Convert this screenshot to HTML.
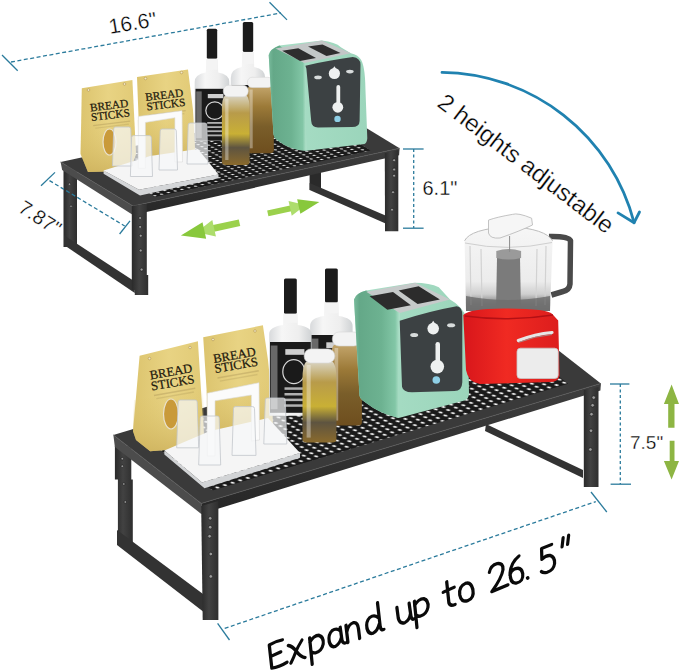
<!DOCTYPE html>
<html><head><meta charset="utf-8"><title>Shelf</title>
<style>
html,body{margin:0;padding:0;background:#fff;}
body{width:679px;height:672px;overflow:hidden;}
svg{display:block;font-family:"Liberation Sans",sans-serif;}
.serif{font-family:"Liberation Serif",serif;}
.thin text{stroke:#fff;stroke-width:0.3px;paint-order:normal;}

</style></head>
<body>
<svg width="679" height="672" viewBox="0 0 679 672">
<defs>
  <pattern id="dots1" patternUnits="userSpaceOnUse" width="1" height="1" patternTransform="matrix(6.8 -1.6 3.7 2.05 0 0)">
    <rect width="1" height="1" fill="#1a1a1a"/>
    <ellipse cx="0.5" cy="0.5" rx="0.18" ry="0.27" fill="#f0f0f0"/>
  </pattern>
  <pattern id="dots2" patternUnits="userSpaceOnUse" width="1" height="1" patternTransform="matrix(7.6 -2.4 4.8 3.1 0 0)">
    <rect width="1" height="1" fill="#1a1a1a"/>
    <ellipse cx="0.5" cy="0.5" rx="0.2" ry="0.28" fill="#f2f2f2"/>
  </pattern>
  <linearGradient id="mintL" x1="0" y1="0" x2="1" y2="0">
    <stop offset="0" stop-color="#79bb9c"/><stop offset="0.12" stop-color="#64a888"/><stop offset="0.6" stop-color="#6db291"/><stop offset="0.9" stop-color="#82c6a6"/><stop offset="1" stop-color="#b2e2cc"/>
  </linearGradient>
  <linearGradient id="mintF" x1="0" y1="0" x2="1" y2="0">
    <stop offset="0" stop-color="#aadfc7"/><stop offset="1" stop-color="#9bd5bb"/>
  </linearGradient>
  <linearGradient id="ambA" x1="0" y1="0" x2="0" y2="1">
    <stop offset="0" stop-color="#d9d3c0"/><stop offset="0.25" stop-color="#b89b4a"/><stop offset="0.55" stop-color="#c9b035"/><stop offset="0.75" stop-color="#5e5440"/><stop offset="1" stop-color="#8a6a2c"/>
  </linearGradient>
  <linearGradient id="ambB" x1="0" y1="0" x2="0" y2="1">
    <stop offset="0" stop-color="#c2a46a"/><stop offset="0.3" stop-color="#9c7a38"/><stop offset="0.6" stop-color="#7a5e2a"/><stop offset="1" stop-color="#6e4e1e"/>
  </linearGradient>
  <linearGradient id="gold" x1="0" y1="0" x2="1" y2="0">
    <stop offset="0" stop-color="#dcc46e"/><stop offset="0.5" stop-color="#e8d383"/><stop offset="1" stop-color="#e1ca76"/>
  </linearGradient>
  <linearGradient id="goldD" x1="0" y1="0" x2="0" y2="1">
    <stop offset="0" stop-color="#e0c870" stop-opacity="0"/><stop offset="1" stop-color="#cdb15c" stop-opacity="0.8"/>
  </linearGradient>
  <linearGradient id="red" x1="0" y1="0" x2="1" y2="0">
    <stop offset="0" stop-color="#d8161b"/><stop offset="0.45" stop-color="#f02a22"/><stop offset="1" stop-color="#dc1d1d"/>
  </linearGradient>
  <linearGradient id="bowl" x1="0" y1="0" x2="0" y2="1">
    <stop offset="0" stop-color="#f6f6f6"/><stop offset="0.65" stop-color="#ececec"/><stop offset="0.8" stop-color="#cfcfcf"/><stop offset="0.9" stop-color="#8a8a8a"/><stop offset="1" stop-color="#6a6a6a"/>
  </linearGradient>
  <linearGradient id="glass" x1="0" y1="0" x2="1" y2="0">
    <stop offset="0" stop-color="#d8dadc"/><stop offset="0.3" stop-color="#f6f6f6"/><stop offset="0.7" stop-color="#eeeeee"/><stop offset="1" stop-color="#cfd2d4"/>
  </linearGradient>
  <linearGradient id="leg" x1="0" y1="0" x2="1" y2="0">
    <stop offset="0" stop-color="#2a2a2a"/><stop offset="0.45" stop-color="#424242"/><stop offset="1" stop-color="#2e2e2e"/>
  </linearGradient>
  <linearGradient id="frontF" x1="0" y1="0" x2="0" y2="1">
    <stop offset="0" stop-color="#3e3e3e"/><stop offset="1" stop-color="#262626"/>
  </linearGradient>
</defs>

<g transform="translate(239.5,222.7) rotate(167.6)">
  <rect x="0" y="-3.4" width="36" height="6.8" fill="#9bd14c"/>
  <polygon points="26,-8.5 44,0 26,8.5" fill="#addd6c"/>
  <polygon points="36,-8.5 60,0 36,8.5" fill="#88c83c"/>
</g>
<g transform="translate(267.8,213.3) rotate(-12.3) scale(0.88)">
  <rect x="0" y="-3.4" width="36" height="6.8" fill="#9bd14c"/>
  <polygon points="26,-8.5 44,0 26,8.5" fill="#addd6c"/>
  <polygon points="36,-8.5 60,0 36,8.5" fill="#88c83c"/>
</g>
<g fill="#8db543">
  <polygon points="671.6,384.5 679,403.9 674.5,403.9 674.5,427.7 668.2,427.7 668.2,403.9 663.9,403.9"/>
  <polygon points="669.7,440.7 674.5,440.7 674.5,461 679,461 671.6,479.4 663.9,461 669.7,461"/>
</g>
<g id="s1"><polygon points="309.6,170 321,170 321,190 309.6,190" fill="#2a2a2a"/>
<polygon points="309.6,183 389,217 389,225 309.6,190" fill="#333"/>
<polygon points="63.5,166 77,166 77,247 63.5,247" fill="url(#leg)"/>
<polygon points="64,235.3 134.8,281.6 134.8,293 64,245" fill="#333"/>
<circle cx="69.5" cy="184.2" r="1.2" fill="#9a9a9a" stroke="#1a1a1a" stroke-width="0.6"/>
<circle cx="71.0" cy="206.3" r="1.2" fill="#9a9a9a" stroke="#1a1a1a" stroke-width="0.6"/>
<polygon points="60.6,162.0 133.0,206.0 399.6,148.3 327.2,104.3" fill="#3a3a3a"/>
<polygon points="154.6,197.1 370.5,150.4 310.4,113.9 94.5,160.6" fill="url(#dots1)"/>
<polygon points="60.6,162.0 133.0,206.0 133.0,215.0 62.1,170.0" fill="#4c4c4c"/>
<polygon points="133.0,206.0 399.6,148.3 399.1,155.3 133.0,215.0" fill="url(#frontF)"/>
<polyline points="60.6,162.0 133.0,206.0 399.6,148.3" fill="none" stroke="#585858" stroke-width="0.8"/>
<polygon points="131.8,206 146.8,204 146.8,275 148.2,275 148.2,295 134.8,295 134.8,290 131.8,290" fill="url(#leg)"/>
<polygon points="384.8,153 398.3,150 398.3,231.3 385,231.3" fill="url(#leg)"/>
<circle cx="140.1" cy="218.0" r="1.5" fill="#9a9a9a" stroke="#1a1a1a" stroke-width="0.6"/>
<circle cx="140.1" cy="226.9" r="1.5" fill="#9a9a9a" stroke="#1a1a1a" stroke-width="0.6"/>
<circle cx="140.7" cy="235.7" r="1.5" fill="#9a9a9a" stroke="#1a1a1a" stroke-width="0.6"/>
<circle cx="140.7" cy="250.5" r="1.5" fill="#9a9a9a" stroke="#1a1a1a" stroke-width="0.6"/>
<circle cx="141.6" cy="269.6" r="1.5" fill="#9a9a9a" stroke="#1a1a1a" stroke-width="0.6"/>
<circle cx="394.1" cy="160.2" r="1.5" fill="#9a9a9a" stroke="#1a1a1a" stroke-width="0.6"/>
<circle cx="394.1" cy="169.5" r="1.5" fill="#9a9a9a" stroke="#1a1a1a" stroke-width="0.6"/>
<circle cx="394.1" cy="175.7" r="1.5" fill="#9a9a9a" stroke="#1a1a1a" stroke-width="0.6"/>
<circle cx="393.0" cy="192.2" r="1.5" fill="#9a9a9a" stroke="#1a1a1a" stroke-width="0.6"/>
<circle cx="392.0" cy="209.7" r="1.5" fill="#9a9a9a" stroke="#1a1a1a" stroke-width="0.6"/></g>
<g id="o1">
<polygon points="137.0,77.0 188.0,69.4 193.0,110.0 195.0,150.0 140.0,158.0 138.5,116.0" fill="url(#gold)"/>
<polygon points="137.5,120.0 194.0,112.0 195.0,150.0 140.0,158.0" fill="url(#goldD)"/>
<text class="serif" font-size="11.3" fill="#1f1a0e" stroke="#1f1a0e" stroke-width="0.25" transform="translate(145.7,101.0) rotate(-7.0)">BREAD</text>
<text class="serif" font-size="11.3" fill="#1f1a0e" stroke="#1f1a0e" stroke-width="0.25" transform="translate(147.0,110.5) rotate(-7.0)">STICKS</text>
<rect x="0" y="4.0" width="37.3" height="1.4" fill="#a08a50" opacity="0.35" transform="translate(148.1,110.5) rotate(-7.0)"/>
<rect x="0" y="6.8" width="33.9" height="1.1" fill="#a08a50" opacity="0.25" transform="translate(149.8,110.5) rotate(-7.0)"/>
<circle cx="145.5" cy="78.5" r="1.3" fill="#f3e9c8" stroke="#a8893f" stroke-width="0.5"/>
<circle cx="181.5" cy="72.5" r="1.3" fill="#f3e9c8" stroke="#a8893f" stroke-width="0.5"/>
<polygon points="81.8,88.3 132.4,80.0 136.0,154.0 130.0,170.7 88.0,172.0 80.6,154.0" fill="url(#gold)"/>
<polygon points="81.0,125.0 134.0,118.0 136.0,154.0 130.0,170.7 88.0,172.0 80.6,154.0" fill="url(#goldD)"/>
<ellipse cx="109.5" cy="142.0" rx="6.5" ry="13.0" fill="#c99a3a" stroke="#e9e2cf" stroke-width="1.2"/>
<text class="serif" font-size="11.3" fill="#1f1a0e" stroke="#1f1a0e" stroke-width="0.25" transform="translate(90.5,111.5) rotate(-7.0)">BREAD</text>
<text class="serif" font-size="11.3" fill="#1f1a0e" stroke="#1f1a0e" stroke-width="0.25" transform="translate(91.5,121.0) rotate(-7.0)">STICKS</text>
<rect x="0" y="4.0" width="37.3" height="1.4" fill="#a08a50" opacity="0.35" transform="translate(92.6,121.0) rotate(-7.0)"/>
<rect x="0" y="6.8" width="33.9" height="1.1" fill="#a08a50" opacity="0.25" transform="translate(94.3,121.0) rotate(-7.0)"/>
<circle cx="88.5" cy="90.0" r="1.3" fill="#f3e9c8" stroke="#a8893f" stroke-width="0.5"/>
<circle cx="124.5" cy="84.0" r="1.3" fill="#f3e9c8" stroke="#a8893f" stroke-width="0.5"/>
<path d="M242.3,51.9 L253.7,51.9 L254.2,66.9 Q265.2,68.9 265.2,78.0 L265.2,126.0 L230.8,126.0 L230.8,78.0 Q230.8,68.9 241.8,66.9 L242.3,51.9 Z" fill="url(#glass)"/>
<rect x="242.8" y="21.9" width="10.4" height="30.0" rx="1.5" fill="#1b1b1b"/>
<rect x="242.3" y="51.9" width="11.4" height="12.0" fill="#f4f4f4" opacity="0.9"/>
<rect x="231.6" y="85.0" width="32.9" height="40.0" fill="#1a1a1a"/>
<ellipse cx="250.8" cy="101.8" rx="9.0" ry="6.8" fill="none" stroke="#d8d8d8" stroke-width="1.2"/>
<rect x="243.9" y="89.0" width="15.5" height="3.2" fill="#cfcfcf"/>
<rect x="243.2" y="110.6" width="17.2" height="1.4" fill="#b0b0b0"/>
<rect x="243.2" y="113.8" width="17.2" height="1.4" fill="#b0b0b0"/>
<rect x="243.2" y="117.0" width="17.2" height="1.4" fill="#b0b0b0"/>
<rect x="243.2" y="120.2" width="17.2" height="1.4" fill="#b0b0b0"/>
<rect x="232.2" y="87.0" width="5.5" height="36.0" fill="#8a8a8a" opacity="0.7"/>
<path d="M206.3,58.8 L217.7,58.8 L218.2,72.6 Q229.3,74.6 229.3,82.0 L229.3,141.0 L194.7,141.0 L194.7,82.0 Q194.7,74.6 205.8,72.6 L206.3,58.8 Z" fill="url(#glass)"/>
<rect x="206.8" y="28.8" width="10.4" height="30.0" rx="1.5" fill="#1b1b1b"/>
<rect x="206.3" y="58.8" width="11.4" height="11.0" fill="#f4f4f4" opacity="0.9"/>
<rect x="195.5" y="88.8" width="33.0" height="51.9" fill="#1a1a1a"/>
<ellipse cx="214.8" cy="110.6" rx="9.0" ry="8.8" fill="none" stroke="#d8d8d8" stroke-width="1.2"/>
<rect x="207.8" y="94.0" width="15.6" height="4.2" fill="#cfcfcf"/>
<rect x="207.2" y="122.0" width="17.3" height="1.8" fill="#b0b0b0"/>
<rect x="207.2" y="126.2" width="17.3" height="1.8" fill="#b0b0b0"/>
<rect x="207.2" y="130.3" width="17.3" height="1.8" fill="#b0b0b0"/>
<rect x="207.2" y="134.5" width="17.3" height="1.8" fill="#b0b0b0"/>
<rect x="196.2" y="91.4" width="5.5" height="46.7" fill="#8a8a8a" opacity="0.7"/>
<path d="M248.9,86.5 L271.0,86.5 Q273.8,89.3 273.8,100.4 L273.8,150.3 Q273.8,153.3 269.8,153.3 L250.1,153.3 Q246.1,153.3 246.1,150.3 L246.1,100.4 Q246.1,89.3 248.9,86.5 Z" fill="url(#ambB)"/>
<rect x="247.5" y="77.3" width="24.9" height="10.2" rx="4.6" fill="#f3f3f3" stroke="#d6d6d6" stroke-width="0.6"/>
<rect x="249.4" y="89.5" width="3.3" height="58.8" fill="#ffffff" opacity="0.35"/>
<path d="M224.7,95.7 L246.8,95.7 Q249.6,98.5 249.6,109.5 L249.6,162.0 Q249.6,165.0 245.6,165.0 L225.9,165.0 Q221.9,165.0 221.9,162.0 L221.9,109.5 Q221.9,98.5 224.7,95.7 Z" fill="url(#ambA)"/>
<rect x="223.3" y="85.3" width="24.9" height="11.4" rx="5.2" fill="#f3f3f3" stroke="#d6d6d6" stroke-width="0.6"/>
<rect x="225.2" y="98.7" width="3.3" height="61.3" fill="#ffffff" opacity="0.35"/>
<polygon points="103.6,170.6 139.0,189.8 218.5,174.5 218.5,178.3 140.0,195.5 103.6,173.8" fill="#d4d6d8"/>
<polygon points="103.6,170.6 150.0,156.0 198.0,149.0 218.5,174.5 139.0,189.8" fill="#f5f5f5"/>
<g fill="#f7f8f9" fill-opacity="0.7" stroke="#c3c7cb" stroke-width="0.8">
<path d="M113.7,129.0 Q113.7,127.0 115.7,127.0 L128.8,127.0 Q130.8,127.0 130.8,129.0 L132.0,166.0 L112.5,166.0 Z"/>
<path d="M188.2,125.0 Q188.2,123.0 190.2,123.0 L204.8,123.0 Q206.8,123.0 206.8,125.0 L208.0,164.0 L187.0,164.0 Z"/>
</g>
<polygon points="138.3,116.5 182.0,110.7 182.5,162.0 174.9,162.0 174.9,117.7 145.4,122.4 145.4,168.4 138.3,168.4" fill="#fbfbfb" stroke="#dcdcdc" stroke-width="0.6"/>
<g fill="#f7f8f9" fill-opacity="0.7" stroke="#c3c7cb" stroke-width="0.8">
<path d="M131.6,137.6 Q131.6,135.6 133.6,135.6 L149.3,135.6 Q151.3,135.6 151.3,137.6 L152.5,176.5 L130.4,176.5 Z"/>
<path d="M160.2,131.0 Q160.2,129.0 162.2,129.0 L174.3,129.0 Q176.3,129.0 176.3,131.0 L177.5,170.0 L159.0,170.0 Z"/>
</g>
<path d="M268.7,55.1 Q270,49 279.3,45.5 L321.9,40.6 Q335,42 341.2,47.4 L350.9,53.2 Q358,55 360.5,59 Q365,65 365.4,88 L367.3,138.3 Q367,143 364.4,144 L306.4,150.8 Q290,150 277.4,140.2 Q274,138 273.5,134.4 Z" fill="url(#mintF)"/>
<path d="M268.7,55.1 Q270,49 279.3,45.5 L304.5,62.9 L306.4,150.8 Q290,150 277.4,140.2 Q274,138 273.5,134.4 Z" fill="url(#mintL)"/>
<polygon points="275.5,48.4 321.9,40.6 350.9,53.2 304.5,62.9" fill="#c3c7c7"/>
<polygon points="282.2,50.8 298.3,48.3 316.0,58.0 300.0,61.0" fill="#2e2e2e"/>
<polygon points="308.0,46.4 322.5,44.5 340.5,53.0 326.5,56.0" fill="#2e2e2e"/>
<path d="M305.4,65.8 Q330,60 352.8,57.1 Q360.5,58 360.5,64.8 L359.6,120.9 Q359.5,127 352,127 L318,127.6 Q311.5,127 311.2,120.9 L306.4,68.7 Z" fill="#3c4143"/>
<circle cx="334.4" cy="73.5" r="5.6" fill="#eef0f0"/><path d="M332.5,69 L334.4,66.3 L336.3,69 Z" fill="#eef0f0"/>
<rect x="336.4" y="85.1" width="3.8" height="20" rx="1.9" fill="#eef0f0"/><circle cx="337.8" cy="107.3" r="5.4" fill="#eef0f0"/><circle cx="337.5" cy="118.9" r="3.2" fill="#8ecfe6"/>
<ellipse cx="318" cy="77.4" rx="3.8" ry="1.8" fill="#d8dcdc"/><ellipse cx="349.9" cy="71.6" rx="3.8" ry="1.8" fill="#d8dcdc"/>
</g>
<g id="s2"><polygon points="486,424 583,470 583,478 485,431" fill="#333"/>
<polygon points="114.9,446 131.3,446 131.3,479.6 132.8,479.6 132.8,545 117.9,545 117.9,479.6 114.9,479.6" fill="url(#leg)"/>
<polygon points="117,530 203,594 205,613 117,545" fill="#333"/>
<circle cx="122.3" cy="458.7" r="1.3" fill="#9a9a9a" stroke="#1a1a1a" stroke-width="0.6"/>
<circle cx="122.3" cy="466.2" r="1.3" fill="#9a9a9a" stroke="#1a1a1a" stroke-width="0.6"/>
<circle cx="123.8" cy="484.0" r="1.3" fill="#9a9a9a" stroke="#1a1a1a" stroke-width="0.6"/>
<circle cx="125.3" cy="502.0" r="1.3" fill="#9a9a9a" stroke="#1a1a1a" stroke-width="0.6"/>
<polygon points="113.4,434.9 201.3,503.4 600.9,383.4 513.0,314.9" fill="#3a3a3a"/>
<polygon points="212.5,490.5 568.1,383.7 497.8,328.9 142.2,435.8" fill="url(#dots2)"/>
<polygon points="113.4,434.9 201.3,503.4 201.3,513.9 114.9,446.9" fill="#4c4c4c"/>
<polygon points="201.3,503.4 600.9,383.4 600.4,390.4 201.3,513.9" fill="url(#frontF)"/>
<polyline points="113.4,434.9 201.3,503.4 600.9,383.4" fill="none" stroke="#585858" stroke-width="0.8"/>
<polygon points="201.2,506 218.4,501 218.4,620 202.7,620" fill="url(#leg)"/>
<polygon points="583.8,390 598.5,387 598.5,487 583.8,487" fill="url(#leg)"/>
<circle cx="210.2" cy="518.3" r="1.8" fill="#9a9a9a" stroke="#1a1a1a" stroke-width="0.6"/>
<circle cx="210.2" cy="527.2" r="1.8" fill="#9a9a9a" stroke="#1a1a1a" stroke-width="0.6"/>
<circle cx="209.6" cy="536.2" r="1.8" fill="#9a9a9a" stroke="#1a1a1a" stroke-width="0.6"/>
<circle cx="210.8" cy="554.0" r="1.8" fill="#9a9a9a" stroke="#1a1a1a" stroke-width="0.6"/>
<circle cx="210.8" cy="576.4" r="1.8" fill="#9a9a9a" stroke="#1a1a1a" stroke-width="0.6"/>
<circle cx="593.7" cy="397.6" r="1.8" fill="#9a9a9a" stroke="#1a1a1a" stroke-width="0.6"/>
<circle cx="592.6" cy="405.3" r="1.8" fill="#9a9a9a" stroke="#1a1a1a" stroke-width="0.6"/>
<circle cx="591.5" cy="414.2" r="1.8" fill="#9a9a9a" stroke="#1a1a1a" stroke-width="0.6"/>
<circle cx="591.0" cy="430.7" r="1.8" fill="#9a9a9a" stroke="#1a1a1a" stroke-width="0.6"/>
<circle cx="590.4" cy="449.5" r="1.8" fill="#9a9a9a" stroke="#1a1a1a" stroke-width="0.6"/></g>
<g id="o2">
<polygon points="203.2,337.2 262.9,325.3 268.0,360.0 272.0,399.5 273.0,430.0 208.0,437.0 207.2,399.5" fill="url(#gold)"/>
<polygon points="206.0,390.0 271.0,380.0 273.0,430.0 208.0,437.0" fill="url(#goldD)"/>
<text class="serif" font-size="12.7" fill="#1f1a0e" stroke="#1f1a0e" stroke-width="0.25" transform="translate(214.0,363.0) rotate(-10.0)">BREAD</text>
<text class="serif" font-size="12.7" fill="#1f1a0e" stroke="#1f1a0e" stroke-width="0.25" transform="translate(215.3,373.0) rotate(-10.0)">STICKS</text>
<rect x="0" y="4.4" width="41.9" height="1.5" fill="#a08a50" opacity="0.35" transform="translate(216.6,373.0) rotate(-10.0)"/>
<rect x="0" y="7.6" width="38.1" height="1.3" fill="#a08a50" opacity="0.25" transform="translate(218.5,373.0) rotate(-10.0)"/>
<circle cx="213.0" cy="339.5" r="1.3" fill="#f3e9c8" stroke="#a8893f" stroke-width="0.5"/>
<circle cx="255.0" cy="331.0" r="1.3" fill="#f3e9c8" stroke="#a8893f" stroke-width="0.5"/>
<polygon points="139.6,355.8 197.9,341.2 201.0,390.0 204.5,444.6 201.9,447.0 150.2,451.2 136.0,440.0 133.0,431.3" fill="url(#gold)"/>
<polygon points="134.0,400.0 203.0,390.0 204.5,444.6 201.9,447.0 150.2,451.2 136.0,440.0 133.0,431.3" fill="url(#goldD)"/>
<ellipse cx="171.0" cy="414.0" rx="7.5" ry="15.0" fill="#c99a3a" stroke="#e9e2cf" stroke-width="1.2"/>
<text class="serif" font-size="12.7" fill="#1f1a0e" stroke="#1f1a0e" stroke-width="0.25" transform="translate(150.5,379.5) rotate(-10.0)">BREAD</text>
<text class="serif" font-size="12.7" fill="#1f1a0e" stroke="#1f1a0e" stroke-width="0.25" transform="translate(151.8,390.5) rotate(-10.0)">STICKS</text>
<rect x="0" y="4.4" width="41.9" height="1.5" fill="#a08a50" opacity="0.35" transform="translate(153.1,390.5) rotate(-10.0)"/>
<rect x="0" y="7.6" width="38.1" height="1.3" fill="#a08a50" opacity="0.25" transform="translate(155.0,390.5) rotate(-10.0)"/>
<circle cx="149.5" cy="358.5" r="1.3" fill="#f3e9c8" stroke="#a8893f" stroke-width="0.5"/>
<circle cx="190.0" cy="347.5" r="1.3" fill="#f3e9c8" stroke="#a8893f" stroke-width="0.5"/>
<path d="M324.5,302.5 L338.3,302.5 L338.8,316.0 Q352.6,318.0 352.6,326.0 L352.6,410.0 L310.1,410.0 L310.1,326.0 Q310.1,318.0 324.0,316.0 L324.5,302.5 Z" fill="url(#glass)"/>
<rect x="325.0" y="268.5" width="12.8" height="34.0" rx="1.5" fill="#1b1b1b"/>
<rect x="324.5" y="302.5" width="13.8" height="10.8" fill="#f4f4f4" opacity="0.9"/>
<rect x="310.9" y="335.0" width="40.9" height="73.0" fill="#1a1a1a"/>
<ellipse cx="334.8" cy="365.7" rx="11.1" ry="12.4" fill="none" stroke="#d8d8d8" stroke-width="1.2"/>
<rect x="326.3" y="342.3" width="19.1" height="5.8" fill="#cfcfcf"/>
<rect x="325.4" y="381.7" width="21.2" height="2.6" fill="#b0b0b0"/>
<rect x="325.4" y="387.6" width="21.2" height="2.6" fill="#b0b0b0"/>
<rect x="325.4" y="393.4" width="21.2" height="2.6" fill="#b0b0b0"/>
<rect x="325.4" y="399.2" width="21.2" height="2.6" fill="#b0b0b0"/>
<rect x="311.6" y="338.6" width="6.8" height="65.7" fill="#8a8a8a" opacity="0.7"/>
<path d="M283.5,313.8 L297.3,313.8 L297.8,325.0 Q311.6,327.0 311.6,334.0 L311.6,415.7 L269.2,415.7 L269.2,334.0 Q269.2,327.0 283.0,325.0 L283.5,313.8 Z" fill="url(#glass)"/>
<rect x="284.0" y="278.4" width="12.8" height="35.4" rx="1.5" fill="#1b1b1b"/>
<rect x="283.5" y="313.8" width="13.8" height="9.0" fill="#f4f4f4" opacity="0.9"/>
<rect x="270.0" y="342.0" width="40.8" height="70.8" fill="#1a1a1a"/>
<ellipse cx="293.8" cy="371.7" rx="11.0" ry="12.0" fill="none" stroke="#d8d8d8" stroke-width="1.2"/>
<rect x="285.3" y="349.1" width="19.1" height="5.7" fill="#cfcfcf"/>
<rect x="284.5" y="387.3" width="21.2" height="2.5" fill="#b0b0b0"/>
<rect x="284.5" y="393.0" width="21.2" height="2.5" fill="#b0b0b0"/>
<rect x="284.5" y="398.6" width="21.2" height="2.5" fill="#b0b0b0"/>
<rect x="284.5" y="404.3" width="21.2" height="2.5" fill="#b0b0b0"/>
<rect x="270.7" y="345.5" width="6.8" height="63.7" fill="#8a8a8a" opacity="0.7"/>
<path d="M333.9,345.0 L358.8,345.0 Q361.9,348.1 361.9,360.5 L361.9,422.6 Q361.9,425.6 357.9,425.6 L334.8,425.6 Q330.8,425.6 330.8,422.6 L330.8,360.5 Q330.8,348.1 333.9,345.0 Z" fill="url(#ambB)"/>
<rect x="332.4" y="332.0" width="28.0" height="14.0" rx="6.5" fill="#f3f3f3" stroke="#d6d6d6" stroke-width="0.6"/>
<rect x="334.5" y="348.0" width="3.7" height="72.6" fill="#ffffff" opacity="0.35"/>
<path d="M305.9,362.0 L333.0,362.0 Q336.4,365.4 336.4,378.9 L336.4,439.6 Q336.4,442.6 332.4,442.6 L306.5,442.6 Q302.5,442.6 302.5,439.6 L302.5,378.9 Q302.5,365.4 305.9,362.0 Z" fill="url(#ambA)"/>
<rect x="304.2" y="349.0" width="30.5" height="14.0" rx="6.5" fill="#f3f3f3" stroke="#d6d6d6" stroke-width="0.6"/>
<rect x="306.6" y="365.0" width="4.1" height="72.6" fill="#ffffff" opacity="0.35"/>
<polygon points="164.4,450.6 202.0,482.4 300.0,453.0 300.0,457.7 204.5,488.3 164.4,454.5" fill="#d2d4d6"/>
<polygon points="164.4,450.6 210.0,431.0 268.0,418.0 300.0,453.0 202.0,482.4" fill="#f5f5f5"/>
<g fill="#f7f8f9" fill-opacity="0.7" stroke="#c3c7cb" stroke-width="0.8">
<path d="M178.2,402.0 Q178.2,400.0 180.2,400.0 L195.2,400.0 Q197.2,400.0 197.2,402.0 L198.7,447.8 L176.7,447.8 Z"/>
<path d="M265.3,400.0 Q265.3,398.0 267.3,398.0 L283.3,398.0 Q285.3,398.0 285.3,400.0 L286.8,444.0 L263.8,444.0 Z"/>
</g>
<polygon points="207.3,393.2 259.0,382.7 259.5,440.0 251.4,441.0 251.4,395.0 215.0,400.8 215.0,456.0 207.3,456.0" fill="#fbfbfb" stroke="#dcdcdc" stroke-width="0.6"/>
<g fill="#f7f8f9" fill-opacity="0.7" stroke="#c3c7cb" stroke-width="0.8">
<path d="M200.2,418.0 Q200.2,416.0 202.2,416.0 L217.2,416.0 Q219.2,416.0 219.2,418.0 L220.7,465.0 L198.7,465.0 Z"/>
<path d="M233.5,408.6 Q233.5,406.6 235.5,406.6 L252.5,406.6 Q254.5,406.6 254.5,408.6 L256.0,455.4 L232.0,455.4 Z"/>
</g>
<path d="M354,299.6 Q356,293 366.2,290.6 L414.2,282.8 Q430,283 438.8,287.3 L450,299.6 Q462,306 467.8,319.7 L469,394 Q468.5,399 464.5,400.5 L398.6,418 Q380,414 365.1,402.3 Q360,399 359.5,395.6 Z" fill="url(#mintF)"/>
<path d="M354,299.6 Q356,293 366.2,290.6 L399.7,313 L398.6,418 Q380,414 365.1,402.3 Q360,399 359.5,395.6 Z" fill="url(#mintL)"/>
<polygon points="366.2,291.8 415.4,282.8 450.0,299.6 399.7,313.0" fill="#c6caca"/>
<polygon points="369.6,296.3 393.0,291.9 410.9,305.2 387.4,309.7" fill="#2c2c2c"/>
<polygon points="398.6,290.6 418.7,286.2 439.9,299.6 417.6,304.0" fill="#2c2c2c"/>
<path d="M399.7,320.8 Q430,311 456.7,306.3 Q462.3,307 462.3,315.2 L462.3,382.2 Q462,391 454.4,391.1 L412,392.3 Q403,392 402,386.7 Z" fill="#3c4143"/>
<circle cx="433.2" cy="328.6" r="5.8" fill="#eef0f0"/><path d="M431,324 L433.2,320.8 L435.4,324 Z" fill="#eef0f0"/>
<rect x="435.5" y="342" width="4.5" height="22" rx="2.2" fill="#eef0f0"/><circle cx="437.3" cy="366.6" r="6.8" fill="#eef0f0"/><circle cx="436.3" cy="380" r="3.8" fill="#8ecfe6"/>
<ellipse cx="414.2" cy="334.9" rx="4" ry="2" fill="#d8dcdc"/><ellipse cx="451.1" cy="325.3" rx="4" ry="2" fill="#d8dcdc"/>
<path d="M549,236.5 Q568,236 570.5,240.5 L570,284 Q569.5,290 563,291.5 L551.4,295" fill="none" stroke="#4a4a4a" stroke-width="5.5" stroke-linejoin="round"/>
<path d="M464.6,240.8 Q470,229 510,226.5 Q546,229 552.6,240.8 L550,311 L466,311 Z" fill="url(#bowl)"/>
<path d="M464.6,240.8 Q470,229 510,226.5 Q546,229 552.6,240.8" fill="none" stroke="#bdbdbd" stroke-width="1"/>
<path d="M465,243 Q508,252 552,242.5" fill="none" stroke="#cfcfcf" stroke-width="1"/>
<path d="M470,246 L471,305 M481,249 L482,306 M537,249 L536,306 M546,246 L545,305" stroke="#d2d2d2" stroke-width="1.2"/>
<path d="M497,258 L520,258 L521,311 L496,311 Z" fill="#7b7b7b"/>
<path d="M496.3,251 Q508.7,247 521.1,251 L521.1,258 Q508.7,261 496.3,258 Z" fill="#9a9a9a"/>
<path d="M466,296 Q508,304 550,296 L550,311 L466,311 Z" fill="#6f6f6f" opacity="0.85"/>
<path d="M488.5,220.1 Q497,217 512.4,214.4 Q518,212.5 531.6,218.2 L532.5,225 Q520,231 500,238 Q490,239 488.5,233 Z" fill="#f6f6f6" stroke="#bcbcbc" stroke-width="0.9"/>
<line x1="509.6" y1="236" x2="509.6" y2="252" stroke="#8a8a8a" stroke-width="1"/>
<path d="M463.3,315 Q470,308 508,308.5 Q548,309 552,313.8 L558.2,320.6 L559.6,375.7 Q558,382 550,382 L479.8,384 Q468,382 466,370 Z" fill="url(#red)"/>
<path d="M465,316 Q508,322 553,315" fill="none" stroke="#b31015" stroke-width="1.5"/>
<rect x="517" y="348.2" width="41.2" height="30.3" rx="3.5" fill="#ececec" stroke="#c9c9c9" stroke-width="0.8"/>
<path d="M518.3,340.5 Q535,334 552,332.5" fill="none" stroke="#e6e6e6" stroke-width="3.2" stroke-linecap="round"/>
<path d="M518.3,342.5 Q535,336 552,334.5" fill="none" stroke="#9a9a9a" stroke-width="0.8"/>
</g>
<g stroke="#2b7b9c" stroke-width="1.3" fill="none">
  <line x1="11" y1="62" x2="281" y2="13" stroke-dasharray="4 2.5"/>
  <line x1="2" y1="55" x2="17.7" y2="70.7"/>
  <line x1="269.5" y1="2.2" x2="287" y2="19.9"/>
  <line x1="49.5" y1="180.6" x2="124.7" y2="226" stroke-dasharray="4 2.5"/>
  <line x1="41" y1="185.8" x2="55" y2="172.4"/>
  <line x1="119.6" y1="234" x2="130" y2="220.8"/>
  <line x1="413.7" y1="149" x2="413.7" y2="228" stroke-dasharray="3 2.5"/>
  <line x1="403" y1="149" x2="423.6" y2="149"/>
  <line x1="403" y1="228.2" x2="423.6" y2="228.2"/>
  <line x1="620.3" y1="384" x2="620.3" y2="484" stroke-dasharray="3 2.5"/>
  <line x1="610" y1="384" x2="629.4" y2="384"/>
  <line x1="610.6" y1="484.2" x2="631" y2="484.2"/>
  <line x1="224.7" y1="628.4" x2="595.8" y2="501.6" stroke-dasharray="4 2.5"/>
  <line x1="217.6" y1="623.3" x2="229.5" y2="640"/>
  <line x1="591" y1="492" x2="606.8" y2="512"/>
</g>
<g fill="#000" class="thin">
  <text font-size="21" transform="translate(110,34) rotate(-9.5)">16.6"</text>
  <text font-size="20" transform="translate(17,211) rotate(33)">7.87"</text>
  <text x="422.5" y="194.5" font-size="20">6.1"</text>
  <text x="630" y="448.5" font-size="19">7.5"</text>
  <text font-size="24" transform="translate(436,105.5) rotate(37.2)">2 heights adjustable</text>
</g>
<g stroke="#2082b0" stroke-width="2.8" fill="none" stroke-linecap="round" stroke-linejoin="round">
  <path d="M442,72.4 A201,201 0 0 1 634.1,222.7"/>
  <path d="M618,212.9 L634.1,222.7 L639.5,212"/>
</g>

<g transform="translate(271,669.5) rotate(-19.3)" fill="none" stroke="#0a0a0a" stroke-width="3.1" stroke-linecap="round" stroke-linejoin="round">
<path transform="translate(0.0,0) skewX(-9) scale(1.08,1.03)" d="M15.5,-23.5 Q9,-24.5 2.5,-23 L1,-1 Q8,0.5 16,-1.5 M1.8,-12 Q7,-12.5 12,-13"/>
<path transform="translate(21.0,0) skewX(-9) scale(1.08,1.03)" d="M0.5,-16.5 Q4,-15 7,-8.5 Q10,-2 14,0 M14,-17 Q9,-12 6.5,-8.5 Q3,-3 0,0.5"/>
<path transform="translate(42.0,0) skewX(-9) scale(1.08,1.03)" d="M2,-16.5 L0,8.5 M1.5,-12.5 Q6,-17.5 11,-16 Q15.5,-13 13.5,-6.5 Q11,-0.5 5,-1 Q2.5,-1.5 1,-3.5"/>
<path transform="translate(62.5,0) skewX(-9) scale(1.08,1.03)" d="M12.5,-13.5 Q9,-17.5 5,-16 Q0.5,-13.5 0.5,-7 Q1,-0.5 5.5,-0.5 Q10,-1.5 12.5,-7 M13,-16.5 L12.5,-4 Q13,0 16,-0.5"/>
<path transform="translate(81.0,0) skewX(-9) scale(1.08,1.03)" d="M1.5,-16.5 L0.5,0 M1.2,-10 Q4,-16.5 8.5,-16.5 Q13,-16 12.5,-9 L12,0"/>
<path transform="translate(102.5,0) skewX(-9) scale(1.08,1.03)" d="M12.5,-13.5 Q9,-17.5 5,-16 Q0.5,-13.5 0.5,-7 Q1,-0.5 5.5,-0.5 Q10,-1.5 12.5,-7 M14.5,-27 L13,-4 Q13.2,0 16,-0.5"/>
<path transform="translate(135.0,0) skewX(-9) scale(1.08,1.03)" d="M1.5,-16.5 L1,-6 Q1.5,0 6.5,0 Q11,-0.5 13,-6.5 M13.5,-16.5 L13,-3 Q13.5,0 15.5,-0.5"/>
<path transform="translate(153.0,0) skewX(-9) scale(1.08,1.03)" d="M2,-16.5 L0,8.5 M1.5,-12.5 Q6,-17.5 11,-16 Q15.5,-13 13.5,-6.5 Q11,-0.5 5,-1 Q2.5,-1.5 1,-3.5"/>
<path transform="translate(185.5,0) skewX(-9) scale(1.08,1.03)" d="M5,-24 L3.5,-4 Q4,0 9,-0.5 M0,-15.5 Q5,-16 11,-16.5"/>
<path transform="translate(201.0,0) skewX(-9) scale(1.08,1.03)" d="M7.5,-16.5 Q1,-16 0.5,-8 Q0.5,0 7,0 Q13.5,0 13.5,-8.5 Q13,-16.5 7.5,-16.5 Z"/>
<path transform="translate(233.5,0) skewX(-9) scale(1.08,1.03)" d="M1.5,-19 Q4,-25 10,-24.5 Q16,-23.5 14.5,-17 Q12,-10 0.5,-0.5 Q8,-1 16.5,-1.5"/>
<path transform="translate(253.0,0) skewX(-9) scale(1.08,1.03)" d="M13.5,-24.5 Q5,-21 2.5,-12 Q0.5,-2 6.5,-0.5 Q13.5,0.5 14,-7 Q14,-14 7.5,-14 Q3.5,-13.5 2,-10"/>
<circle cx="272.5" cy="-1.6" r="1.9" fill="#0a0a0a" stroke="none"/>
<path transform="translate(286.0,0) skewX(-9) scale(1.08,1.03)" d="M15,-24.5 L5,-24 L3.5,-14 Q8,-16.5 11.5,-15 Q16,-12 14.5,-6 Q12.5,0 6,-0.5 Q2.5,-1 1,-3"/>
<path transform="translate(310.0,0) skewX(-9) scale(1.08,1.03)" d="M4.5,-27 L2,-19 M10,-27.5 L7.5,-19.5"/>
</g>
</svg>
</body></html>
